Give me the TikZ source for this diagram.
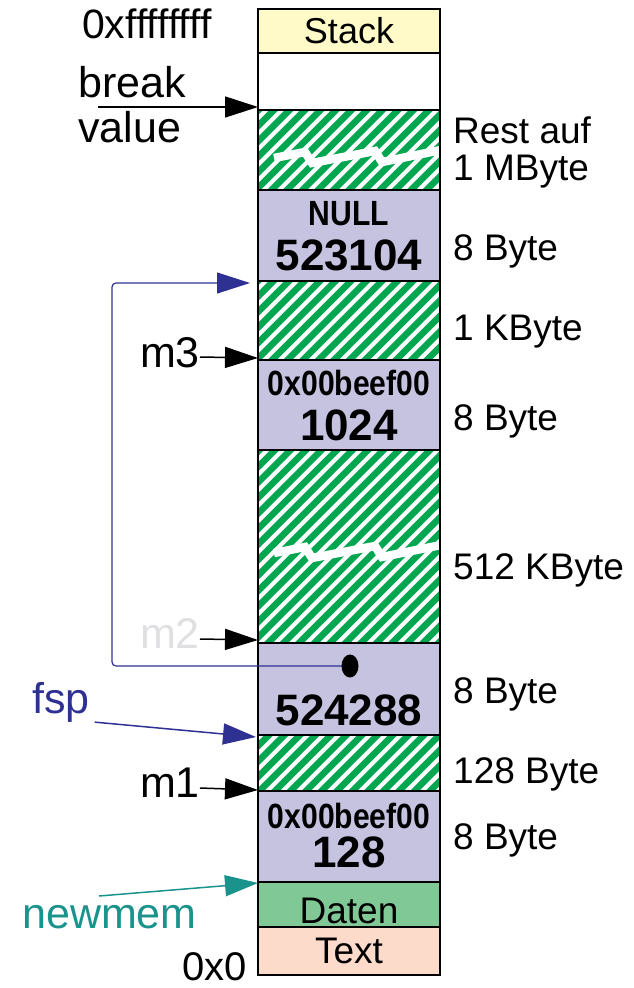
\documentclass[tikz,border=0pt]{standalone}
\usepackage{fontspec}
\setmainfont{Liberation Sans}
\usepackage{graphicx}
\usetikzlibrary{arrows.meta, shapes.geometric, positioning}
\usepackage{xcolor}
\definecolor{lavender}{RGB}{198,195,225}
\definecolor{stackyellow}{RGB}{255,250,200}
\definecolor{datengreen}{RGB}{128,201,151}
\definecolor{textpeach}{RGB}{253,219,203}
\definecolor{hatchgreen}{RGB}{0,166,80}
\definecolor{ptrblue}{RGB}{46,49,146}
\definecolor{ptrteal}{RGB}{26,147,140}
\definecolor{ghostgray}{RGB}{224,224,226}
\tikzset{segment/.style={rectangle, minimum width=182pt, inner sep=0pt, outer sep=0pt, anchor=north west},border/.style={draw=black, line width=1.6pt}}
\tikzset{leftlabel/.style={font=\fontsize{43}{46}\selectfont, inner sep=0pt, anchor=base east},rightlabel/.style={font=\fontsize{37}{40}\selectfont, inner sep=0pt, anchor=base west}}
\tikzset{celltext/.style={font=\fontsize{37}{40}\selectfont, inner sep=0pt, anchor=base},cellnum/.style={font=\fontsize{44}{46}\selectfont\bfseries, inner sep=0pt, anchor=base},cellword/.style={font=\fontsize{35}{38}\selectfont\bfseries, inner sep=0pt, anchor=base}}
\tikzset{ptr/.style={line width=1.5pt, -{Triangle[length=33pt, width=21pt]}},tear/.style={white, line width=8.5pt}}
\newcommand{\narrow}[1]{\scalebox{0.86}[1]{#1}}

\begin{document}
\begin{tikzpicture}[x=1pt, y=-1pt, line join=miter]
        \useasboundingbox (0,0) rectangle (634,988);
        % Segments
        \foreach \name/\ytop/\ybot/\col in {
            stackseg/9/53/stackyellow,
            gapseg/53/110/white,
            free1/110/190/white,
            nullseg/190/281/lavender,
            free2/281/360/white,
            seg1024/360/450/lavender,
            free3/450/643/white,
            seg524288/643/735/lavender,
            free4/735/791/white,
            seg128/791/882/lavender,
            datenseg/882/927/datengreen,
            textseg/927/975/textpeach} {
            \node[segment, fill=\col, minimum height={(\ybot-\ytop)*1pt}] (\name) at (258,\ytop) {};
        }
        % Hatching
        \foreach \n in {free1, free2, free3, free4} {
            \begin{scope}
                \clip (\n.north west) rectangle (\n.south east);
                \foreach \x in {-740,-724.5,...,450} {
                    \draw[hatchgreen, line width=6.5pt] (\x,1000) -- ++(1000,-1000);
                }
            \end{scope}
        }
        % Breaks
        \draw[tear] (274,158) -- (305,152) -- (312,163) -- (375,151) -- (382,162) -- (446,149);
        \draw[tear] (274,553) -- (305,547) -- (312,558) -- (375,546) -- (382,557) -- (446,544);
        % Borders
        \foreach \n in {stackseg, gapseg, free1, nullseg, free2, seg1024, free3, seg524288, free4, seg128, datenseg, textseg} {
            \draw[border] (\n.north west) rectangle (\n.south east);
        }
        % Cell texts
        \node[celltext, font=\fontsize{36}{40}\selectfont] (stacktxt) at (349,43) {Stack};
        \node[cellword] (nulltxt) at (349,225) {\narrow{NULL}};
        \node[cellnum] (size1) at (349,270) {523104};
        \node[cellword] (magic1) at (349,395) {\narrow{0x00beef00}};
        \node[cellnum] (size2) at (349,440) {1024};
        \node[cellnum] (size3) at (349,725) {524288};
        \node[cellword] (magic2) at (349,828) {\narrow{0x00beef00}};
        \node[cellnum] (size4) at (349,867) {128};
        \node[celltext] (datentxt) at (349,923) {Daten};
        \node[celltext] (texttxt) at (349,963) {Text};
        % Sizes
        \foreach \name/\yb/\txt in {
            rest/143/Rest auf,
            mbyte/180/1 MByte,
            hdr1/260/8 Byte,
            kbyte/340/1 KByte,
            hdr2/430/8 Byte,
            bigfree/579/512 KByte,
            hdr3/703/8 Byte,
            smallfree/783/128 Byte,
            hdr4/849/8 Byte} {
            \node[rightlabel] (\name) at (453,\yb) {\txt};
        }
        % Addresses
        \node[leftlabel, anchor=base west, font=\fontsize{41}{44}\selectfont] (top) at (82,38) {0xffffffff};
        \node[leftlabel, font=\fontsize{40}{44}\selectfont] (bottom) at (247,980) {0x0};
        % Pointers
        \node[leftlabel, anchor=base west] (brk) at (78,97) {break};
        \node[leftlabel, anchor=base west] (val) at (78,142) {value};
        \coordinate (brktail) at (98,107);
        \draw[ptr] (brktail) -- ([yshift=3pt]free1.north west);
        \node[leftlabel] (m3) at (200,367) {m3};
        \draw[ptr] ([yshift=10pt]m3.base east) -- ([yshift=2pt]seg1024.north west);
        \node[leftlabel, ghostgray] (m2) at (200,648) {m2};
        \draw[ptr] ([yshift=9pt]m2.base east) -- ([yshift=3pt]seg524288.north west);
        \node[leftlabel] (m1) at (200,797) {m1};
        \draw[ptr] ([yshift=9pt]m1.base east) -- ([yshift=1pt]seg128.north west);
        \node[leftlabel, ptrblue, anchor=base west] (fsp) at (32,713) {fsp};
        \draw[ptr, ptrblue] ([xshift=5pt]fsp.south east) -- ([xshift=-2pt,yshift=-2pt]free4.north west);
        \node[leftlabel, ptrteal, anchor=base west] (newmem) at (22,928) {newmem};
        \coordinate (newmemtail) at (99,896);
        \draw[ptr, ptrteal] (newmemtail) -- ([yshift=-1pt]datenseg.north west);
        % Next pointer
        \draw[ptr, ptrblue, line width=1.2pt, rounded corners=4pt] (350,666) -- (112,666) -- (112,283) -- ([xshift=-8pt,yshift=-2pt]free2.north west);
        \node[ellipse, fill=black, minimum width=17pt, minimum height=23pt, inner sep=0pt] (dot) at (350,666) {};
    \end{tikzpicture}
\end{document}
